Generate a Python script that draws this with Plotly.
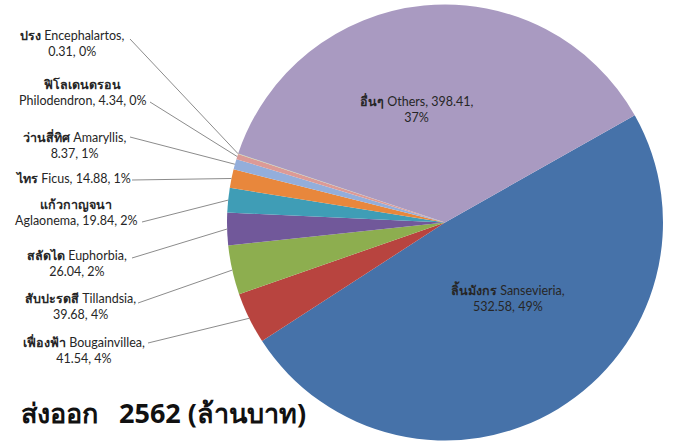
import math
import plotly.graph_objects as go

# ---------------- data ----------------
thai_names = ["ลิ้นมังกร", "เฟื่องฟ้า", "สับปะรดสี", "สลัดได", "แก้วกาญจนา",
              "ไทร", "ว่านสี่ทิศ", "ฟิโลเดนดรอน", "ปรง", "อื่นๆ"]
eng_names = ["Sansevieria", "Bougainvillea", "Tillandsia", "Euphorbia", "Aglaonema",
             "Ficus", "Amaryllis", "Philodendron", "Encephalartos", "Others"]
values = [532.58, 41.54, 39.68, 26.04, 19.84, 14.88, 8.37, 4.34, 0.31, 398.41]
title_text = "ส่งออก\u00a0\u00a0\u00a02562 (ล้านบาท)"

# ---------------- style / layout ----------------
W, H = 673, 443
colors = ["#4672A9", "#B8443F", "#8DAE4F", "#71589A", "#3F9DB6",
          "#E8873C", "#93AEDB", "#DC9A96", "#C3D69B", "#A99AC1"]
ROTATION = 60.5
CX, CY, R = 445.0, 222.5, 218.0  # pie centre / radius in pixels
dom_x = [(CX - R) / W, (CX + R) / W]
dom_y = [(H - CY - R) / H, (H - CY + R) / H]

# label break style: 0 -> "thai eng,<br>v, p%", 1 -> "thai<br>eng, v, p%",
# 2 -> one line, 3 -> "thai eng, v,<br>p%"
break_style = [0, 0, 0, 0, 1, 2, 0, 1, 0, 3]
# label block centres (px) and leader line start (px); None for inside labels
label_pos = [(508, 297), (84, 350), (80, 306), (77, 263), (76, 212),
             (73, 178), (74, 145), (82, 92), (72, 44), (416, 109)]
line_start = [None, (148, 343), (138, 303), (132, 258), (142, 222),
              (132, 180), (130, 137), (150, 102), (130, 39), None]

FONT = "Lato, 'Liberation Sans', sans-serif"
TITLE_FONT = "'Open Sans', Lato, sans-serif"
TXT = "#262626"
LINE = "#8C8C8C"

total = sum(values)


def px(x):
    return x / W


def py(y):
    return 1 - y / H


def label_text(i):
    v = values[i]
    p = round(v / total * 100)
    t = f"<b>{thai_names[i]}</b>"
    if break_style[i] == 0:
        return f"{t} {eng_names[i]},<br>{v:.2f}, {p}%"
    if break_style[i] == 1:
        return f"{t}<br>{eng_names[i]}, {v:.2f}, {p}%"
    if break_style[i] == 3:
        return f"{t} {eng_names[i]}, {v:.2f},<br>{p}%"
    return f"{t} {eng_names[i]}, {v:.2f}, {p}%"


fig = go.Figure(go.Pie(
    labels=eng_names,
    values=values,
    sort=False,
    direction="clockwise",
    rotation=ROTATION,
    marker=dict(colors=colors, line=dict(width=0)),
    textinfo="none",
    hoverinfo="label+value+percent",
    domain=dict(x=dom_x, y=dom_y),
    showlegend=False,
))

annotations = []
shapes = []
cum = 0.0
start_deg = 90 - ROTATION  # math angle of first slice start
for i, v in enumerate(values):
    frac = v / total
    mid = start_deg - (cum + frac / 2) * 360
    cum += frac
    lx, ly = label_pos[i]
    annotations.append(dict(
        x=px(lx), y=py(ly), xref="paper", yref="paper",
        text=label_text(i), showarrow=False, align="center",
        xanchor="center", yanchor="middle",
        font=dict(family=FONT, size=12.5, color=TXT),
    ))
    if line_start[i] is not None:
        ex = CX + R * math.cos(math.radians(mid))
        ey = CY - R * math.sin(math.radians(mid))
        sx, sy = line_start[i]
        shapes.append(dict(type="line", xref="paper", yref="paper",
                           x0=px(sx), y0=py(sy), x1=px(ex), y1=py(ey),
                           line=dict(color=LINE, width=1)))

annotations.append(dict(
    x=px(19), y=py(412), xref="paper", yref="paper",
    text=f"<b>{title_text}</b>", showarrow=False,
    xanchor="left", yanchor="middle",
    font=dict(family=TITLE_FONT, size=27, color="#111111"),
))

fig.update_layout(
    width=W, height=H,
    margin=dict(l=0, r=0, t=0, b=0),
    paper_bgcolor="white", plot_bgcolor="white",
    annotations=annotations, shapes=shapes,
)

fig.write_html("out.html", config={"displayModeBar": False},
               post_script="document.body.style.margin='0';")
